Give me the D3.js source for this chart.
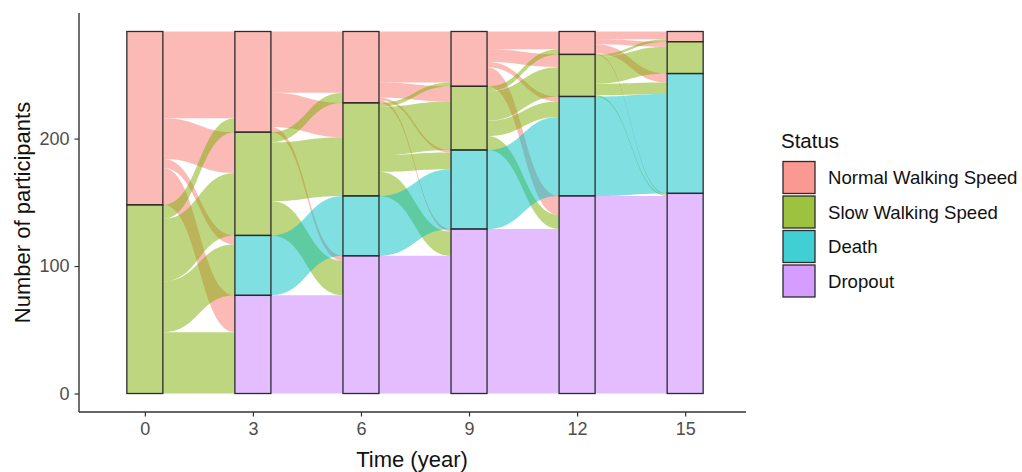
<!DOCTYPE html>
<html>
<head>
<meta charset="utf-8">
<script src="https://cdn.jsdelivr.net/npm/d3@7"></script>
<style>
  html, body { margin: 0; padding: 0; background: #fff; }
  svg { display: block; font-family: "Liberation Sans", Arial, sans-serif; }
</style>
</head>
<body>
<svg id="chart" width="1022" height="472"></svg>
<script>
// Survey waves (years) and participant status categories
const times = ["0", "3", "6", "9", "12", "15"];
const statuses = ["Normal Walking Speed", "Slow Walking Speed", "Death", "Dropout"];
const statusColors = ["#F8766D", "#7CAE00", "#00BFC4", "#C77CFF"];

// Participants in each status at each wave
const normalCounts  = [136, 79, 56, 43, 18, 8];
const slowCounts    = [148, 81, 73, 50, 33, 25];
const deathCounts   = [0, 47, 47, 62, 78, 94];
const dropoutCounts = [0, 77, 108, 129, 155, 157];

// Transitions between consecutive waves: row = status before, column = status after
const flow0to3   = [[68, 32, 7, 29], [11, 49, 40, 48], [0, 0, 0, 0], [0, 0, 0, 0]];
const flow3to6   = [[48, 27, 0, 4], [8, 46, 0, 27], [0, 0, 47, 0], [0, 0, 0, 77]];
const flow6to9   = [[40, 12, 2, 2], [3, 38, 13, 19], [0, 0, 47, 0], [0, 0, 0, 108]];
const flow9to12  = [[14, 10, 4, 15], [4, 23, 12, 11], [0, 0, 62, 0], [0, 0, 0, 129]];
const flow12to15 = [[6, 4, 7, 1], [2, 21, 9, 1], [0, 0, 78, 0], [0, 0, 0, 155]];

const yTicks = [0, 100, 200];

const strataCounts = [normalCounts, slowCounts, deathCounts, dropoutCounts];
const transitions = [flow0to3, flow3to6, flow6to9, flow9to12, flow12to15];

const svg = d3.select("#chart");

const x = d3.scalePoint().domain(times).range([80, 750]).padding(0.6);
const y = d3.scaleLinear().domain([-14.5, 298.5]).range([412, 13]);
const barW = x.step() / 3;

// Top (in participant units) of each stratum at each wave; strata stack top-down
function strataTops(ti) {
  const total = d3.sum(strataCounts, s => s[ti]);
  const tops = [];
  let acc = total;
  for (let k = 0; k < statuses.length; k++) {
    tops.push(acc);
    acc -= strataCounts[k][ti];
  }
  return tops;
}

const gFlows = svg.append("g");
const gStrata = svg.append("g");

// Flows between consecutive waves, coloured by the earlier status
transitions.forEach((m, ti) => {
  const leftTops = strataTops(ti);
  const rightTops = strataTops(ti + 1);
  const x1 = x(times[ti]) + barW / 2;
  const x2 = x(times[ti + 1]) - barW / 2;
  const xm = (x1 + x2) / 2;

  // Offsets inside each stratum
  const leftUsed = [0, 0, 0, 0];
  const rightUsed = [0, 0, 0, 0];
  const segs = [];
  for (let i = 0; i < 4; i++) {
    for (let j = 0; j < 4; j++) {
      const n = m[i][j];
      if (!n) continue;
      const l0 = leftTops[i] - leftUsed[i];
      leftUsed[i] += n;
      segs.push({ i, j, n, l0, l1: l0 - n });
    }
  }
  // right side: within each destination stratum ordered by origin
  for (let j = 0; j < 4; j++) {
    for (let i = 0; i < 4; i++) {
      const s = segs.find(d => d.i === i && d.j === j);
      if (!s) continue;
      s.r0 = rightTops[j] - rightUsed[j];
      rightUsed[j] += s.n;
      s.r1 = s.r0 - s.n;
    }
  }

  gFlows.selectAll(null)
    .data(segs)
    .join("path")
    .attr("d", s => {
      const a = y(s.l0), b = y(s.l1), c = y(s.r0), d = y(s.r1);
      return `M${x1},${a}C${xm},${a} ${xm},${c} ${x2},${c}` +
             `L${x2},${d}C${xm},${d} ${xm},${b} ${x1},${b}Z`;
    })
    .attr("fill", s => statusColors[s.i])
    .attr("fill-opacity", 0.5)
    .attr("stroke", "none");
});

// Strata boxes
times.forEach((t, ti) => {
  const tops = strataTops(ti);
  const rows = statuses.map((s, k) => ({ k, top: tops[k], n: strataCounts[k][ti] }))
    .filter(d => d.n > 0);
  gStrata.selectAll(null)
    .data(rows)
    .join("rect")
    .attr("x", x(t) - barW / 2)
    .attr("width", barW)
    .attr("y", d => y(d.top))
    .attr("height", d => y(d.top - d.n) - y(d.top))
    .attr("fill", d => statusColors[d.k])
    .attr("fill-opacity", 0.5)
    .attr("stroke", "#2b2b2b")
    .attr("stroke-width", 1.3);
});

// Axes
const axisColor = "#333";
const yAxis = svg.append("g")
  .attr("transform", "translate(79,0)")
  .call(d3.axisLeft(y).tickValues(yTicks).tickSize(4.5).tickSizeOuter(0).tickPadding(5));
const xAxis = svg.append("g")
  .attr("transform", "translate(0,412)")
  .call(d3.axisBottom(x).tickSize(4.5).tickSizeOuter(0).tickPadding(6));

[yAxis, xAxis].forEach(g => {
  g.select(".domain").attr("stroke", axisColor).attr("stroke-width", 1.4);
  g.selectAll(".tick line").attr("stroke", axisColor).attr("stroke-width", 1.2);
  g.selectAll(".tick text")
    .attr("fill", "#4d4d4d")
    .style("font-size", "18px")
    .style("font-family", "'Liberation Sans', Arial, sans-serif");
});
// Extend axis lines over the full panel
yAxis.select(".domain").attr("d", "M0,13V412");
xAxis.select(".domain").attr("d", "M79,0H746");

// Axis titles
svg.append("text")
  .attr("x", 412)
  .attr("y", 467)
  .attr("text-anchor", "middle")
  .attr("fill", "#111")
  .style("font-size", "22px")
  .text("Time (year)");

svg.append("text")
  .attr("transform", "translate(30,212.5) rotate(-90)")
  .attr("text-anchor", "middle")
  .attr("fill", "#111")
  .style("font-size", "22px")
  .text("Number of participants");

// Legend
const legend = svg.append("g");
legend.append("text")
  .attr("x", 781)
  .attr("y", 147.5)
  .attr("fill", "#111")
  .style("font-size", "20.5px")
  .text("Status");

const keys = legend.selectAll("g.key")
  .data(statuses)
  .join("g")
  .attr("class", "key")
  .attr("transform", (d, i) => `translate(783,${161.5 + i * 34.5})`);

keys.append("rect")
  .attr("width", 32)
  .attr("height", 32)
  .attr("fill", (d, i) => statusColors[i])
  .attr("fill-opacity", 0.75)
  .attr("stroke", "#2b2b2b")
  .attr("stroke-width", 1.3);

keys.append("text")
  .attr("x", 45)
  .attr("y", 22.5)
  .attr("fill", "#111")
  .style("font-size", "18.6px")
  .text(d => d);
</script>
</body>
</html>
